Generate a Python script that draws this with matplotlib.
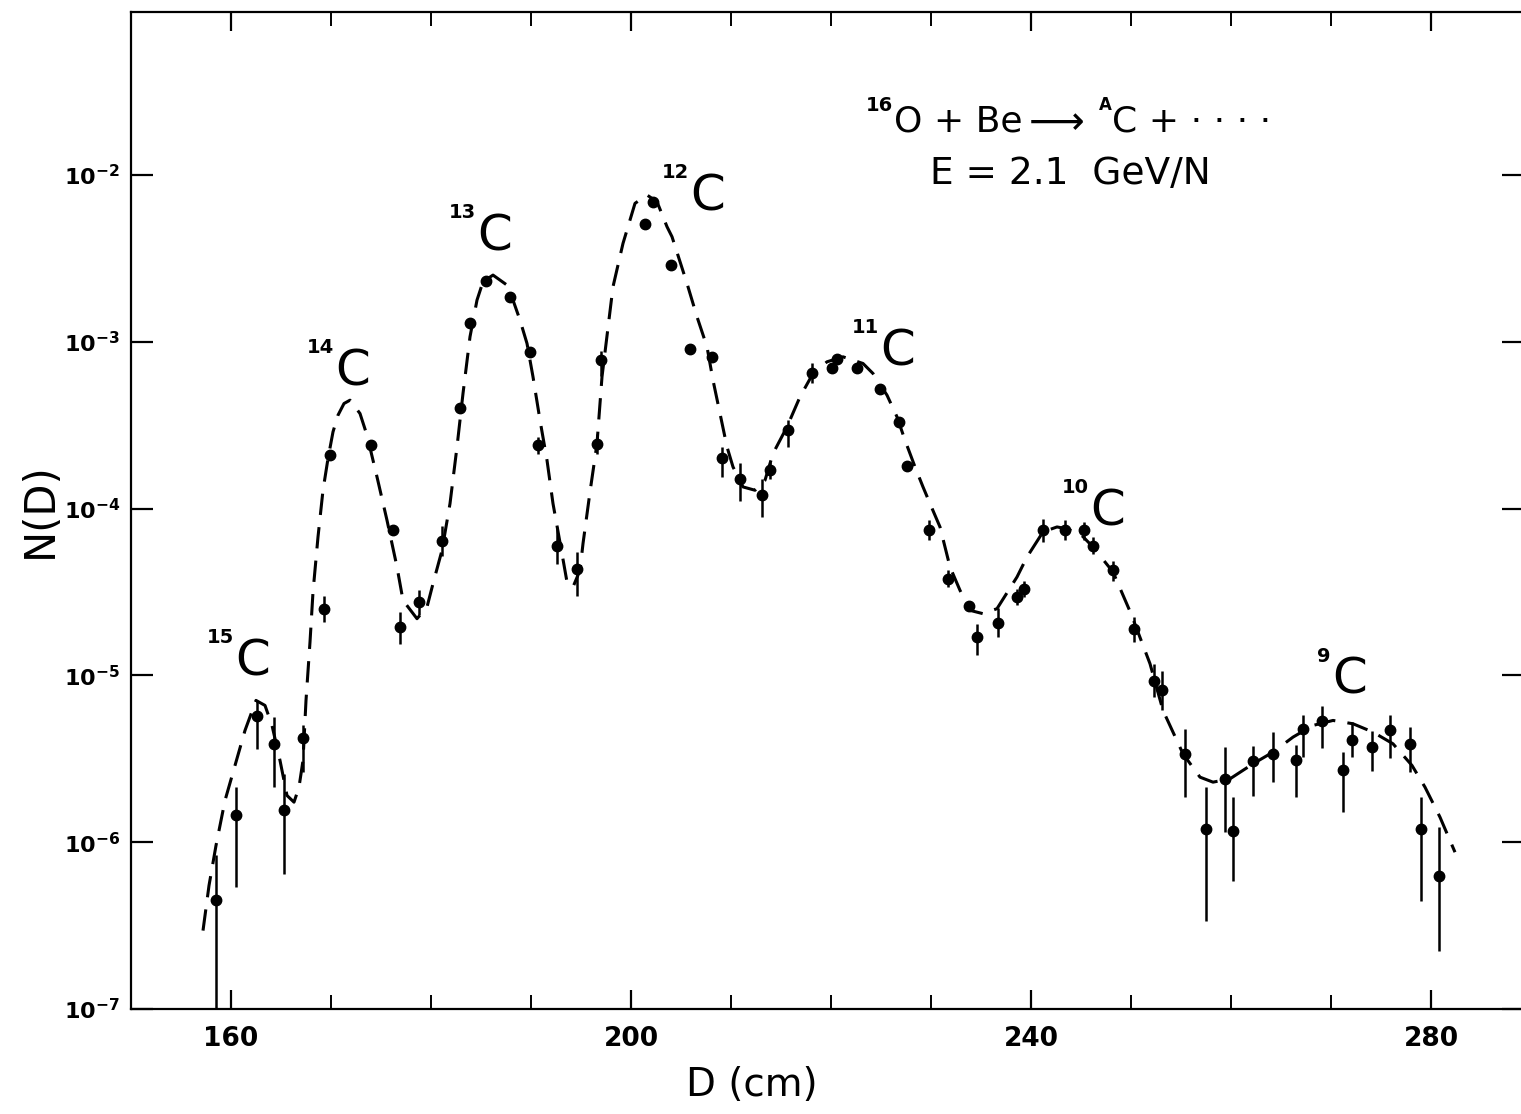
import numpy as np
import matplotlib
matplotlib.use('Agg')
import matplotlib.pyplot as plt
from matplotlib.ticker import FixedLocator, FuncFormatter, NullLocator

# ---- measured points: D (cm), N(D), error bar extent in decades (up / down) ----
D = [158.5, 160.5, 162.6, 164.3, 165.3, 167.2, 169.3, 169.9, 174.0, 176.2,
     176.9, 178.8, 181.1, 182.9, 183.9, 185.5, 187.9, 189.9, 190.7, 192.6,
     194.6, 196.6, 197.0, 201.4, 202.2, 204.0, 205.9, 208.1, 209.1, 210.9,
     213.1, 213.9, 215.7, 218.1, 220.1, 220.6, 222.6, 224.9, 226.8, 227.6,
     229.8, 231.7, 233.8, 234.6, 236.7, 238.6, 239.3, 241.2, 243.4, 245.3,
     246.2, 248.2, 250.3, 252.3, 253.1, 255.4, 257.5, 259.4, 260.2, 262.2,
     264.2, 266.5, 267.2, 269.1, 271.2, 272.1, 274.1, 275.9, 277.9, 279.0,
     280.8]
N = [4.5e-7, 1.45e-6, 5.7e-6, 3.9e-6, 1.55e-6, 4.2e-6, 2.5e-5, 2.1e-4, 2.4e-4, 7.4e-5,
     1.95e-5, 2.75e-5, 6.4e-5, 4.0e-4, 1.3e-3, 2.3e-3, 1.85e-3, 8.7e-4, 2.4e-4, 6.0e-5,
     4.35e-5, 2.45e-4, 7.8e-4, 5.1e-3, 6.9e-3, 2.9e-3, 9.0e-4, 8.1e-4, 2.0e-4, 1.5e-4,
     1.2e-4, 1.7e-4, 2.95e-4, 6.5e-4, 7.0e-4, 7.9e-4, 7.0e-4, 5.2e-4, 3.3e-4, 1.8e-4,
     7.4e-5, 3.8e-5, 2.6e-5, 1.7e-5, 2.05e-5, 2.95e-5, 3.3e-5, 7.4e-5, 7.4e-5, 7.4e-5,
     6.0e-5, 4.3e-5, 1.9e-5, 9.3e-6, 8.2e-6, 3.4e-6, 1.2e-6, 2.4e-6, 1.17e-6, 3.05e-6,
     3.4e-6, 3.1e-6, 4.8e-6, 5.3e-6, 2.7e-6, 4.1e-6, 3.7e-6, 4.7e-6, 3.9e-6, 1.2e-6,
     6.3e-7]
err_up = [0.27, 0.17, 0.09, 0.16, 0.22, 0.08, 0.08, 0.03, 0.03, 0.03,
          0.09, 0.07, 0.09, 0.03, 0.03, 0.03, 0.03, 0.03, 0.05, 0.11,
          0.10, 0.06, 0.05, 0.03, 0.03, 0.03, 0.03, 0.03, 0.07, 0.10,
          0.10, 0.05, 0.06, 0.06, 0.03, 0.03, 0.03, 0.03, 0.03, 0.03,
          0.06, 0.05, 0.03, 0.08, 0.09, 0.05, 0.05, 0.07, 0.06, 0.05,
          0.05, 0.05, 0.07, 0.10, 0.11, 0.15, 0.25, 0.19, 0.20, 0.09,
          0.13, 0.09, 0.08, 0.09, 0.11, 0.11, 0.10, 0.09, 0.10, 0.19,
          0.29]
err_dn = [0.80, 0.43, 0.20, 0.26, 0.38, 0.20, 0.08, 0.03, 0.03, 0.03,
          0.10, 0.08, 0.09, 0.03, 0.03, 0.03, 0.03, 0.03, 0.05, 0.11,
          0.16, 0.06, 0.10, 0.03, 0.03, 0.03, 0.03, 0.03, 0.11, 0.13,
          0.13, 0.05, 0.10, 0.06, 0.03, 0.03, 0.03, 0.03, 0.03, 0.03,
          0.06, 0.05, 0.03, 0.11, 0.08, 0.05, 0.05, 0.07, 0.06, 0.06,
          0.05, 0.07, 0.08, 0.10, 0.12, 0.26, 0.55, 0.32, 0.30, 0.21,
          0.17, 0.22, 0.17, 0.16, 0.25, 0.10, 0.14, 0.17, 0.17, 0.43,
          0.45]

# ---- dashed curve (D, log10 N) ----
curve_D = [157.2, 157.8, 158.5, 159.4, 160.4, 161.4, 162.5, 163.4, 164.1, 164.9,
           165.6, 166.3, 166.8, 167.2, 167.5, 167.9, 168.2, 168.7, 169.2, 169.7,
           170.2, 170.7, 171.3, 171.9, 172.9, 173.6, 174.6, 175.6, 176.6, 177.2,
           178.6, 179.6, 180.2, 181.1, 181.9, 182.6, 183.2, 183.9, 184.6, 185.2,
           186.2, 187.6, 188.2, 188.9, 189.6, 190.2, 190.9, 191.6, 192.2, 193.1,
           193.6, 194.2, 194.9, 195.2, 195.9, 196.6, 197.1, 198.2, 199.2, 200.4,
           201.6, 202.6, 203.6, 204.1, 205.6, 206.6, 207.6, 208.2, 208.9, 209.6,
           210.2, 211.2, 212.4, 213.4, 214.2, 215.6, 216.9, 218.2, 219.6, 221.2,
           223.2, 224.2, 225.6, 226.6, 227.4, 228.4, 229.2, 229.9, 230.9, 231.9,
           232.9, 233.9, 235.2, 236.6, 238.6, 239.6, 241.2, 242.6, 243.5, 244.9,
           246.2, 248.2, 250.0, 251.9, 253.2, 255.2, 256.9, 258.2, 259.9, 262.2,
           264.2, 266.2, 268.2, 270.2, 272.2, 274.2, 276.2, 278.1, 279.4, 280.9,
           282.4]
curve_logN = [-6.53, -6.26, -6.02, -5.75, -5.54, -5.33, -5.15, -5.18, -5.30, -5.51,
              -5.72, -5.76, -5.67, -5.51, -5.15, -4.80, -4.50, -4.17, -3.89, -3.70,
              -3.54, -3.44, -3.37, -3.35, -3.43, -3.56, -3.81, -4.07, -4.35, -4.55,
              -4.66, -4.59, -4.45, -4.25, -3.97, -3.63, -3.31, -2.97, -2.75, -2.64,
              -2.60, -2.66, -2.75, -2.87, -3.01, -3.21, -3.47, -3.71, -3.97, -4.27,
              -4.44, -4.47, -4.37, -4.21, -3.90, -3.61, -3.21, -2.67, -2.41, -2.17,
              -2.12, -2.16, -2.31, -2.37, -2.65, -2.85, -3.03, -3.23, -3.43, -3.63,
              -3.75, -3.87, -3.89, -3.83, -3.67, -3.51, -3.33, -3.19, -3.12, -3.09,
              -3.13, -3.19, -3.32, -3.45, -3.59, -3.75, -3.87, -3.97, -4.11, -4.35,
              -4.49, -4.61, -4.63, -4.60, -4.41, -4.29, -4.14, -4.11, -4.12, -4.15,
              -4.23, -4.38, -4.63, -4.93, -5.21, -5.47, -5.61, -5.64, -5.62, -5.53,
              -5.46, -5.37, -5.30, -5.27, -5.29, -5.34, -5.41, -5.54, -5.67, -5.85,
              -6.06]

# ---- isotope labels (position of the C, at its baseline) ----
iso_mass = ['15', '14', '13', '12', '11', '10', '9']
iso_D = [160.4, 170.4, 184.6, 205.9, 224.9, 245.9, 270.1]
iso_logN = [-5.00, -3.26, -2.45, -2.21, -3.14, -4.10, -5.11]

xticks_major = [160, 200, 240, 280]
xticks_minor = [170, 180, 190, 210, 220, 230, 250, 260, 270]
yticks = [1e-7, 1e-6, 1e-5, 1e-4, 1e-3, 1e-2]

plt.rcParams['font.family'] = ['DejaVu Sans']
plt.rcParams['mathtext.fontset'] = 'dejavusans'

W, H = 1521, 1114
fig = plt.figure(figsize=(W / 100, H / 100), dpi=100)
ax = fig.add_axes([131 / W, 105 / H, 1393 / W, 997 / H])

N_arr = np.array(N)
lo = N_arr - N_arr * 10 ** (-np.array(err_dn))
hi = N_arr * 10 ** np.array(err_up) - N_arr
ax.errorbar(D, N, yerr=[lo, hi], fmt='o', color='black', ms=7.5,
            elinewidth=1.8, capsize=0, zorder=3)

ax.plot(curve_D, 10 ** np.array(curve_logN), color='black', lw=2.2,
        dashes=(7, 4), zorder=2)

ax.set_yscale('log')
ax.set_xlim(150, 150 + 139.3)
ax.set_ylim(1e-7, 10 ** (-7 + 997 / 166.8))

ax.xaxis.set_major_locator(FixedLocator(xticks_major))
ax.xaxis.set_minor_locator(FixedLocator(xticks_minor))
ax.yaxis.set_major_locator(FixedLocator(yticks))
ax.yaxis.set_minor_locator(NullLocator())
ax.yaxis.set_major_formatter(FuncFormatter(
    lambda v, p: r'$\mathbf{10^{%d}}$' % round(np.log10(v))))

ax.tick_params(axis='y', which='major', direction='in', length=16, width=1.6,
               left=True, right=True, labelsize=16, pad=8)
ax.tick_params(axis='x', which='major', direction='in', length=14, width=1.6,
               top=True, bottom=True, labelsize=19, pad=12)
ax.tick_params(axis='x', which='minor', direction='in', length=10, width=1.4,
               top=True, bottom=True)
for lab in ax.get_xticklabels():
    lab.set_fontweight('bold')
for sp in ax.spines.values():
    sp.set_linewidth(1.6)

ax.set_xlabel('D (cm)', fontsize=28)
ax.xaxis.set_label_coords((752 - 131) / 1393, -(1085 - 1009) / 997)
ax.xaxis.label.set_va('center')
ax.set_ylabel('N(D)', fontsize=30)
ax.yaxis.set_label_coords((40 - 131) / 1393, 0.5)
ax.yaxis.label.set_va('center')

for m, xd, yl in zip(iso_mass, iso_D, iso_logN):
    ax.text(xd, 10 ** yl, 'C', fontsize=36, ha='left', va='baseline')
    ax.annotate(m, (xd, 10 ** yl), xytext=(-1, 23), textcoords='offset points',
                fontsize=14, ha='right', va='baseline', fontweight='bold')

# reaction annotation, pieces placed in pixel positions of the figure
def ftext(px, py, s, size, **kw):
    fig.text(px / W, 1 - py / H, s, fontsize=size, ha='left', va='baseline', **kw)

ftext(866, 111, '16', 14, fontweight='bold')
ftext(894, 132, 'O + Be', 26)
ftext(1021, 132, r'$\longrightarrow$', 28)
ftext(1099, 110, 'A', 12, fontweight='bold')
ftext(1112, 132, 'C + · · · ·', 26)
ftext(930, 184, 'E = 2.1  GeV/N', 27)

fig.savefig('out.png', dpi=100)
